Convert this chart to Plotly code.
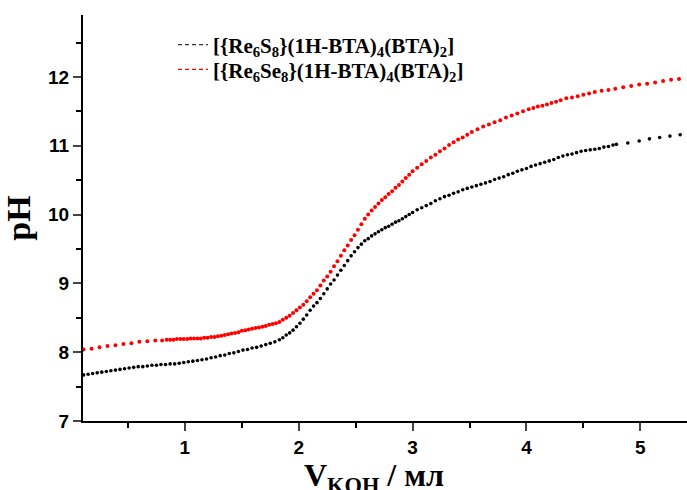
import plotly.graph_objects as go

# Red series: [{Re6Se8}(1H-BTA)4(BTA)2]
se_x = [0.11, 0.18, 0.25, 0.32, 0.39, 0.46, 0.53, 0.60, 0.67, 0.74, 0.80,
        0.84, 0.87, 0.90, 0.93, 0.96, 0.99, 1.02, 1.05, 1.08, 1.11, 1.14, 1.17, 1.20,
        1.23, 1.26, 1.29, 1.32, 1.35, 1.38, 1.41, 1.44, 1.47, 1.50, 1.53, 1.56, 1.59,
        1.62, 1.65, 1.68, 1.71, 1.74, 1.77, 1.80, 1.83, 1.86,
        1.89, 1.92, 1.95, 1.98, 2.01, 2.04, 2.07, 2.10, 2.13, 2.16, 2.19, 2.22, 2.25,
        2.28, 2.31, 2.34, 2.37, 2.40, 2.43, 2.46, 2.49, 2.52, 2.55, 2.58, 2.61, 2.64,
        2.67, 2.70, 2.73, 2.76, 2.79, 2.82, 2.85, 2.88, 2.91, 2.94, 2.97, 3.00,
        3.04, 3.08, 3.12, 3.16, 3.20, 3.24, 3.28, 3.32, 3.36, 3.40, 3.44, 3.48, 3.52,
        3.57, 3.62, 3.67, 3.72, 3.77, 3.82, 3.87, 3.92, 3.97, 4.02, 4.06, 4.10, 4.14,
        4.18, 4.22, 4.26, 4.30, 4.35, 4.40, 4.45, 4.50, 4.55, 4.60, 4.66, 4.72, 4.78,
        4.85, 4.92, 4.99, 5.06, 5.13, 5.20, 5.27, 5.34]
se_y = [8.04, 8.05, 8.07, 8.09, 8.10, 8.12, 8.13, 8.15, 8.16, 8.17, 8.17,
        8.18, 8.18, 8.18, 8.19, 8.19, 8.19, 8.19, 8.20, 8.20, 8.20, 8.20, 8.21, 8.21,
        8.22, 8.22, 8.23, 8.24, 8.25, 8.26, 8.27, 8.28, 8.29, 8.31, 8.32, 8.33, 8.34,
        8.35, 8.36, 8.37, 8.38, 8.40, 8.41, 8.42, 8.44, 8.47,
        8.50, 8.53, 8.57, 8.61, 8.65, 8.69, 8.74, 8.80, 8.85, 8.90, 8.97, 9.04, 9.10,
        9.17, 9.25, 9.32, 9.40, 9.48, 9.55, 9.63, 9.70, 9.78, 9.86, 9.94, 10.00, 10.06,
        10.11, 10.16, 10.21, 10.25, 10.30, 10.34, 10.39, 10.43, 10.48, 10.53, 10.58, 10.63,
        10.68, 10.73, 10.78, 10.83, 10.87, 10.92, 10.96, 11.01, 11.05, 11.09, 11.12, 11.16, 11.20,
        11.24, 11.28, 11.31, 11.34, 11.37, 11.41, 11.44, 11.47, 11.50, 11.53, 11.55, 11.57, 11.58,
        11.60, 11.62, 11.64, 11.66, 11.69, 11.70, 11.72, 11.74, 11.76, 11.78, 11.80, 11.81, 11.83,
        11.85, 11.87, 11.89, 11.90, 11.92, 11.94, 11.96, 11.97]

# Black series: [{Re6S8}(1H-BTA)4(BTA)2]
s_x = [0.11, 0.15, 0.19, 0.23, 0.27, 0.31, 0.35, 0.39, 0.43, 0.47, 0.51, 0.55, 0.59,
       0.63, 0.67, 0.71, 0.75, 0.79, 0.83, 0.87, 0.91, 0.95, 0.99, 1.03, 1.07, 1.11,
       1.15, 1.19, 1.23, 1.27, 1.31, 1.35, 1.39, 1.43, 1.47, 1.51, 1.55, 1.59, 1.63,
       1.67, 1.71, 1.75, 1.79, 1.83, 1.86,
       1.89, 1.92, 1.95, 1.98, 2.01, 2.04, 2.07, 2.10, 2.13, 2.16, 2.19, 2.22, 2.25,
       2.28, 2.31, 2.34, 2.37, 2.40, 2.43, 2.46, 2.49, 2.52, 2.55, 2.58, 2.61, 2.64,
       2.67, 2.70, 2.73, 2.76, 2.79, 2.82, 2.85, 2.88, 2.91, 2.94, 2.97, 3.00,
       3.04, 3.08, 3.12, 3.16, 3.20, 3.24, 3.28, 3.32, 3.36, 3.40, 3.44, 3.48, 3.52,
       3.56, 3.60, 3.64, 3.68, 3.72, 3.76, 3.80, 3.84, 3.88, 3.92, 3.96, 4.00, 4.04,
       4.08, 4.12, 4.16, 4.20, 4.24, 4.28, 4.32, 4.36, 4.40, 4.44, 4.48, 4.52, 4.56,
       4.60, 4.64, 4.68, 4.72, 4.76, 4.79,
       4.89, 4.99, 5.08, 5.17, 5.26, 5.35]
s_y = [7.67, 7.68, 7.69, 7.70, 7.71, 7.72, 7.73, 7.74, 7.75, 7.76, 7.77, 7.78, 7.79,
       7.79, 7.80, 7.81, 7.81, 7.82, 7.82, 7.83, 7.83, 7.84, 7.85, 7.86, 7.87, 7.88,
       7.89, 7.90, 7.92, 7.93, 7.95, 7.96, 7.98, 7.99, 8.01, 8.03, 8.04, 8.06, 8.07,
       8.09, 8.11, 8.13, 8.15, 8.18, 8.21,
       8.25, 8.28, 8.32, 8.37, 8.42, 8.48, 8.54, 8.61, 8.67, 8.72, 8.78, 8.85, 8.92,
       8.99, 9.05, 9.12, 9.19, 9.26, 9.33, 9.40, 9.46, 9.52, 9.57, 9.62, 9.65, 9.69,
       9.72, 9.75, 9.78, 9.81, 9.83, 9.86, 9.89, 9.91, 9.94, 9.97, 10.00, 10.03,
       10.07, 10.10, 10.13, 10.16, 10.20, 10.23, 10.26, 10.28, 10.31, 10.33, 10.36, 10.38, 10.40,
       10.42, 10.44, 10.46, 10.48, 10.51, 10.53, 10.55, 10.58, 10.60, 10.63, 10.65, 10.67, 10.70,
       10.72, 10.74, 10.76, 10.78, 10.80, 10.83, 10.85, 10.87, 10.88, 10.90, 10.92, 10.93, 10.94,
       10.95, 10.96, 10.98, 10.99, 11.01, 11.02,
       11.04, 11.07, 11.10, 11.12, 11.14, 11.16]

x_ticks = [1, 2, 3, 4, 5]
y_ticks = [7, 8, 9, 10, 11, 12]

name_s = "[{Re<sub>6</sub>S<sub>8</sub>}(1H-BTA)<sub>4</sub>(BTA)<sub>2</sub>]"
name_se = "[{Re<sub>6</sub>Se<sub>8</sub>}(1H-BTA)<sub>4</sub>(BTA)<sub>2</sub>]"
x_title = "V<sub>KOH</sub> / мл"
y_title = "pH"

serif = "Liberation Serif, Times New Roman"

fig = go.Figure()
fig.add_trace(go.Scatter(x=s_x, y=s_y, mode="markers", showlegend=False,
                         marker=dict(color="black", size=3.6, line=dict(width=0))))
fig.add_trace(go.Scatter(x=se_x, y=se_y, mode="markers", showlegend=False,
                         marker=dict(color="red", size=4, line=dict(width=0))))
# legend entries (one legend per row for exact placement)
fig.add_trace(go.Scatter(x=[None], y=[None], mode="lines", name=name_s, legend="legend",
                         line=dict(color="#333344", width=1.3, dash="4px,3px")))
fig.add_trace(go.Scatter(x=[None], y=[None], mode="lines", name=name_se, legend="legend2",
                         line=dict(color="red", width=1.3, dash="4px,3px")))

legend_font = dict(family=serif, size=21, color="black", weight="bold")
axis_font = dict(family="Liberation Sans, Arial", size=19, color="black", weight="bold")
fig.update_layout(
    width=687, height=490,
    margin=dict(l=83, r=0, t=15, b=69),
    paper_bgcolor="white", plot_bgcolor="white",
    showlegend=True,
    legend=dict(x=0.149, y=0.926, xanchor="left", yanchor="middle",
                bgcolor="rgba(0,0,0,0)", itemwidth=30, font=legend_font),
    legend2=dict(x=0.149, y=0.865, xanchor="left", yanchor="middle",
                 bgcolor="rgba(0,0,0,0)", itemwidth=30, font=legend_font),
    xaxis=dict(range=[0.105, 5.41], tickvals=x_ticks, ticks="outside", ticklen=8,
               tickwidth=2, showline=True, linewidth=2, linecolor="black",
               showgrid=False, zeroline=False, tickfont=axis_font, automargin=False,
               minor=dict(dtick=0.5, tick0=0, ticks="outside", ticklen=5,
                          tickwidth=2, tickcolor="black", showgrid=False)),
    yaxis=dict(range=[7, 12.9], tickvals=y_ticks, ticks="outside", ticklen=8,
               tickwidth=2, showline=True, linewidth=2, linecolor="black",
               showgrid=False, zeroline=False, tickfont=axis_font, automargin=False,
               minor=dict(dtick=0.5, tick0=0, ticks="outside", ticklen=5,
                          tickwidth=2, tickcolor="black", showgrid=False),
               title=dict(text=y_title, standoff=8,
                          font=dict(family=serif, size=34, color="black", weight="bold"))),
    annotations=[dict(text=x_title, xref="paper", yref="paper", x=0.482, y=-0.083,
                      xanchor="center", yanchor="top", showarrow=False,
                      font=dict(family=serif, size=32, color="black", weight="bold"))],
)

fig.write_html("out.html", config={"displayModeBar": False},
               post_script="document.body.style.margin='0px';")
